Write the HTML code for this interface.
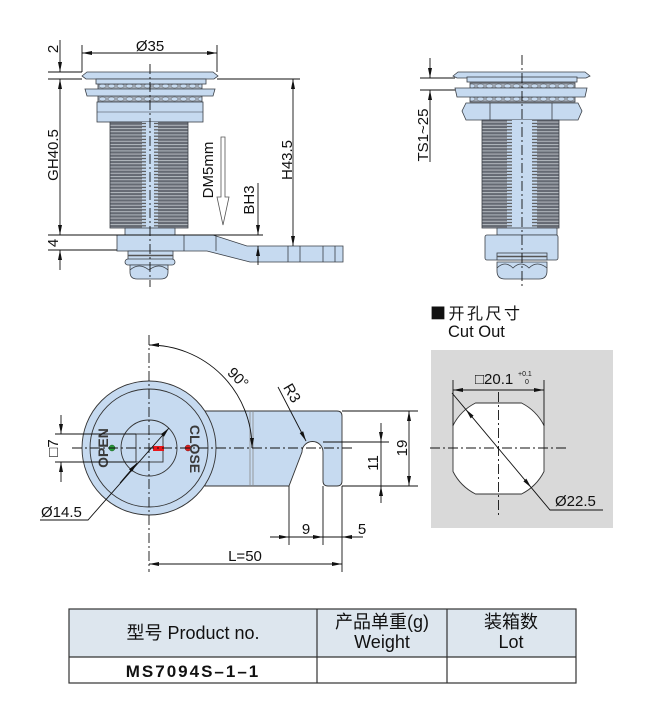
<!DOCTYPE html>
<html><head><meta charset="utf-8"><style>
html,body{margin:0;padding:0;background:#fff;}
svg{display:block;}
text{font-family:"Liberation Sans","Noto Sans CJK SC",sans-serif;fill:#111;}
</style></head><body>
<svg width="650" height="720" viewBox="0 0 650 720" xmlns="http://www.w3.org/2000/svg">
<defs>
<marker id="ar" viewBox="0 0 10 4" preserveAspectRatio="none" refX="10" refY="2" markerWidth="10" markerHeight="4" markerUnits="userSpaceOnUse" orient="auto-start-reverse"><path d="M0,0L10,2L0,4z" fill="#111"/></marker>
<pattern id="th" width="10" height="3.2" patternUnits="userSpaceOnUse"><rect width="10" height="3.2" fill="#656a73"/><rect y="0" width="10" height="1" fill="#b3b8bf"/></pattern>
<pattern id="st" width="16" height="3.2" patternUnits="userSpaceOnUse" x="142"><rect width="16" height="3.2" fill="#c6daf0"/><rect x="0" y="1.2" width="4" height="1.2" fill="#555"/><rect x="12" y="1.2" width="4" height="1.2" fill="#555"/></pattern>
<pattern id="st2" width="30" height="3.2" patternUnits="userSpaceOnUse" x="507"><rect width="30" height="3.2" fill="#c6daf0"/><rect x="0" y="1.2" width="5" height="1.2" fill="#555"/><rect x="25" y="1.2" width="5" height="1.2" fill="#555"/></pattern>
<pattern id="wt" width="9" height="19" patternUnits="userSpaceOnUse" x="98" y="83"><rect width="9" height="19" fill="#a3acb8"/><ellipse cx="4.5" cy="3" rx="3.5" ry="2" fill="#c6daf0" stroke="#555" stroke-width="0.5"/><ellipse cx="4.5" cy="16" rx="3.5" ry="2" fill="#c6daf0" stroke="#555" stroke-width="0.5"/></pattern>
</defs>

<!-- ============ TOP LEFT SIDE VIEW ============ -->
<g stroke="#3a3f46" stroke-width="0.8" fill="#c6daf0">
  <rect x="98" y="83" width="104" height="19" fill="url(#wt)"/>
  <polygon points="82,76 87,72 213,72 218,76 214,79 86,79"/>
  <rect x="96" y="79" width="110" height="5"/>
  <polygon points="85,89 215,89 213,96 87,96"/>
  <rect x="97" y="102" width="106" height="20"/>
  <path d="M97,112 L203,112" fill="none" stroke-width="0.5"/>
  <rect x="110" y="122" width="78" height="106" fill="url(#th)"/>
  <rect x="142" y="122" width="16" height="106" fill="url(#st)" stroke="none"/>
  <rect x="125" y="228" width="50" height="7"/>
  <polygon points="117,235 213,235 247,246 343,246 343,262 250,262 207,251 117,251"/>
  <path d="M184,235V251M216,236V251M288,246V262M300,246V262M323,246V262M335,246V262" fill="none"/>
  <rect x="128" y="251" width="45" height="9"/>
  <path d="M128,255.5H173" fill="none" stroke="#555" stroke-width="1.5"/>
  <rect x="125" y="259" width="50" height="6" rx="3"/>
  <path d="M130,265 L168,265 L168,272 Q168,279 161,279 L137,279 Q130,279 130,272 Z"/>
  <path d="M130,270 Q139,262 149,270 Q159,262 168,270" fill="none"/>
</g>
<path d="M150,64V287" stroke="#111" stroke-width="0.9" stroke-dasharray="10 3 2 3"/>
<g stroke="#111" stroke-width="0.9" fill="none">
  <path d="M82,45V72M217,45V72"/>
  <path d="M82,53H217" marker-start="url(#ar)" marker-end="url(#ar)"/>
  <path d="M48,72H82M48,79H82M217,79H300"/>
  <path d="M60,40V72" marker-end="url(#ar)"/>
  <path d="M60,79V235" marker-start="url(#ar)" marker-end="url(#ar)"/>
  <path d="M48,235H263M48,250H117"/>
  <path d="M60,270V250" marker-end="url(#ar)"/>
  <path d="M293,79V246" marker-start="url(#ar)" marker-end="url(#ar)"/>
  <path d="M258,183V235" marker-end="url(#ar)"/>
  <path d="M258,265V246" marker-end="url(#ar)"/>
</g>
<polygon points="221,137 225,137 225,197 229,197 223,225 217,197 221,197" fill="#fff" stroke="#555" stroke-width="0.8"/>
<g font-size="15">
  <text x="150" y="51" text-anchor="middle">Ø35</text>
  <text transform="translate(58,49) rotate(-90)" text-anchor="middle">2</text>
  <text transform="translate(58,155) rotate(-90)" text-anchor="middle">GH40.5</text>
  <text transform="translate(58,243) rotate(-90)" text-anchor="middle">4</text>
  <text transform="translate(292,160) rotate(-90)" text-anchor="middle">H43.5</text>
  <text transform="translate(254,200) rotate(-90)" text-anchor="middle">BH3</text>
  <text transform="translate(213,170) rotate(-90)" text-anchor="middle">DM5mm</text>
</g>

<!-- ============ TOP RIGHT VIEW ============ -->
<g stroke="#3a3f46" stroke-width="0.8" fill="#c6daf0">
  <rect x="470" y="83" width="105" height="19" fill="url(#wt)"/>
  <polygon points="453,76 458,72 585,72 590,76 586,78 457,78"/>
  <rect x="467" y="77" width="110" height="5"/>
  <polygon points="455,88 587,88 585,97 457,97"/>
  <polygon points="466,103 578,103 582,111 578,120 466,120 462,111"/>
  <path d="M490,103V120M552,103V120" fill="none"/>
  <rect x="482" y="120" width="77" height="108" fill="url(#th)"/>
  <rect x="507" y="120" width="30" height="108" fill="url(#st2)" stroke="none"/>
  <rect x="497" y="228" width="60" height="7"/>
  <rect x="485" y="235" width="73" height="25" rx="2"/>
  <rect x="497" y="253" width="50" height="7"/>
  <path d="M497,256.5H547" fill="none" stroke="#555" stroke-width="1.5"/>
  <path d="M497,262 L547,262 L547,271 Q547,279 539,279 L505,279 Q497,279 497,271 Z"/>
  <path d="M497,268 Q505,260 513,268 Q521,260 529,268 Q537,260 547,268" fill="none"/>
</g>
<path d="M522,55V288" stroke="#111" stroke-width="0.9" stroke-dasharray="10 3 2 3"/>
<g stroke="#111" stroke-width="0.9" fill="none">
  <path d="M420,78H455M420,90H455"/>
  <path d="M430,58V78" marker-end="url(#ar)"/>
  <path d="M430,162V90" marker-end="url(#ar)"/>
</g>
<text transform="translate(428,135) rotate(-90)" text-anchor="middle" font-size="15">TS1~25</text>

<!-- ============ CAM FRONT VIEW ============ -->
<g stroke="#333" stroke-width="0.9" fill="#c6daf0">
  <path d="M205,411 L337,411 Q342,411 342,416 L342,481 Q342,486 337,486 L328,486 Q323,486 323,481 L323,452 A10.5,10.5 0 0 0 302,452 L289,486 L205,486 Z"/>
  <path d="M250,411V486M253,411V486" fill="none" stroke="#888" stroke-width="0.8"/>
  <circle cx="149" cy="448" r="67"/>
  <circle cx="149" cy="448" r="59" fill="none"/>
  <circle cx="149" cy="448" r="28" fill="none"/>
  <rect x="136" y="434" width="27" height="28" fill="none"/>
</g>
<rect x="153" y="446" width="11" height="5" fill="#e8161b"/>
<circle cx="112" cy="448" r="3" fill="#2a9d3a" stroke="#1a5a22" stroke-width="0.5"/>
<circle cx="188" cy="448" r="3" fill="#e02020" stroke="#7a1010" stroke-width="0.5"/>
<g font-size="14" font-weight="bold">
  <text transform="translate(108,448) rotate(-90)" text-anchor="middle" style="fill:#3a3a3a">OPEN</text>
  <text transform="translate(190,449) rotate(90)" text-anchor="middle" style="fill:#3a3a3a">CLOSE</text>
</g>
<g stroke="#111" stroke-width="0.9" fill="none">
  <path d="M72,448H355" stroke-dasharray="10 3 2 3"/>
  <path d="M149,335V572" stroke-dasharray="10 3 2 3"/>
  <path d="M149,345 A103,103 0 0 1 252,448" marker-start="url(#ar)" marker-end="url(#ar)"/>
  <path d="M278,387L306,441" marker-end="url(#ar)"/>
  <path d="M40,520H88L169,428" marker-end="url(#ar)"/>
  <path d="M120,483L137,463" marker-end="url(#ar)"/>
  <path d="M55,434H136M55,462H136"/>
  <path d="M61,415V434" marker-end="url(#ar)"/>
  <path d="M61,482V462" marker-end="url(#ar)"/>
  <path d="M342,411H418M342,486H418M323,442H389"/>
  <path d="M409,411V486" marker-start="url(#ar)" marker-end="url(#ar)"/>
  <path d="M381,423V442" marker-end="url(#ar)"/>
  <path d="M381,503V486" marker-end="url(#ar)"/>
  <path d="M381,442V486"/>
  <path d="M289,486V545M323,486V545M342,486V572"/>
  <path d="M270,537H363"/>
  <path d="M270,537H289" marker-end="url(#ar)"/>
  <path d="M304,537H323" marker-end="url(#ar)"/>
  <path d="M362,537H342" marker-end="url(#ar)"/>
  <path d="M149,564H342" marker-start="url(#ar)" marker-end="url(#ar)"/>
</g>
<g font-size="15">
  <text transform="translate(234.5,381.5) rotate(45)" text-anchor="middle">90°</text>
  <text transform="translate(287.7,395.5) rotate(60)" text-anchor="middle">R3</text>
  <text x="41" y="517">Ø14.5</text>
  <text transform="translate(58,448) rotate(-90)" text-anchor="middle">□7</text>
  <text transform="translate(407,448) rotate(-90)" text-anchor="middle">19</text>
  <text transform="translate(378,463) rotate(-90)" text-anchor="middle">11</text>
  <text x="306" y="534" text-anchor="middle">9</text>
  <text x="362" y="534" text-anchor="middle">5</text>
  <text x="245" y="561" text-anchor="middle">L=50</text>
</g>

<!-- ============ CUT OUT ============ -->
<text x="430" y="319" font-size="16" letter-spacing="2.5" style="font-family:'Noto Sans CJK SC','Liberation Sans',sans-serif">■开孔尺寸</text>
<text x="448" y="337" font-size="16.5">Cut Out</text>
<rect x="431" y="350" width="182" height="178" fill="#d9d9d9"/>
<path d="M475.5,403 L521.5,403 A51,51 0 0 1 544,425.5 L544,471.5 A51,51 0 0 1 521.5,494 L475.5,494 A51,51 0 0 1 453,471.5 L453,425.5 A51,51 0 0 1 475.5,403 Z" fill="#fff" stroke="#333" stroke-width="0.9"/>
<g stroke="#111" stroke-width="0.9" fill="none">
  <path d="M430,448H567" stroke-dasharray="10 3 2 3"/>
  <path d="M498.5,392V515" stroke-dasharray="10 3 2 3"/>
  <path d="M453,380V426M544,380V426"/>
  <path d="M453,390H544" marker-start="url(#ar)" marker-end="url(#ar)"/>
  <path d="M452,393L465.8,409.4"/>
  <path d="M465.8,409.4L531.2,487.6" marker-start="url(#ar)" marker-end="url(#ar)"/>
  <path d="M531.2,487.6L550,510H603"/>
</g>
<text x="475" y="384" font-size="15">□20.1</text>
<text x="518" y="376" font-size="7">+0.1</text>
<text x="525" y="384" font-size="7">0</text>
<text x="555" y="506" font-size="15">Ø22.5</text>

<!-- ============ TABLE ============ -->
<rect x="69" y="609" width="507" height="48" fill="#dde6ee"/>
<g stroke="#333" stroke-width="1.2" fill="none">
  <rect x="69" y="609" width="507" height="74"/>
  <path d="M69,657H576M317,609V683M447,609V683"/>
</g>
<g font-size="18" text-anchor="middle">
  <text x="193" y="639">型号 Product no.</text>
  <text x="382" y="628">产品单重(g)</text>
  <text x="382" y="648">Weight</text>
  <text x="511" y="628">装箱数</text>
  <text x="511" y="648">Lot</text>
</g>
<text x="193" y="677" font-size="17" font-weight="bold" text-anchor="middle" letter-spacing="2">MS7094S–1–1</text>
</svg>
</body></html>
